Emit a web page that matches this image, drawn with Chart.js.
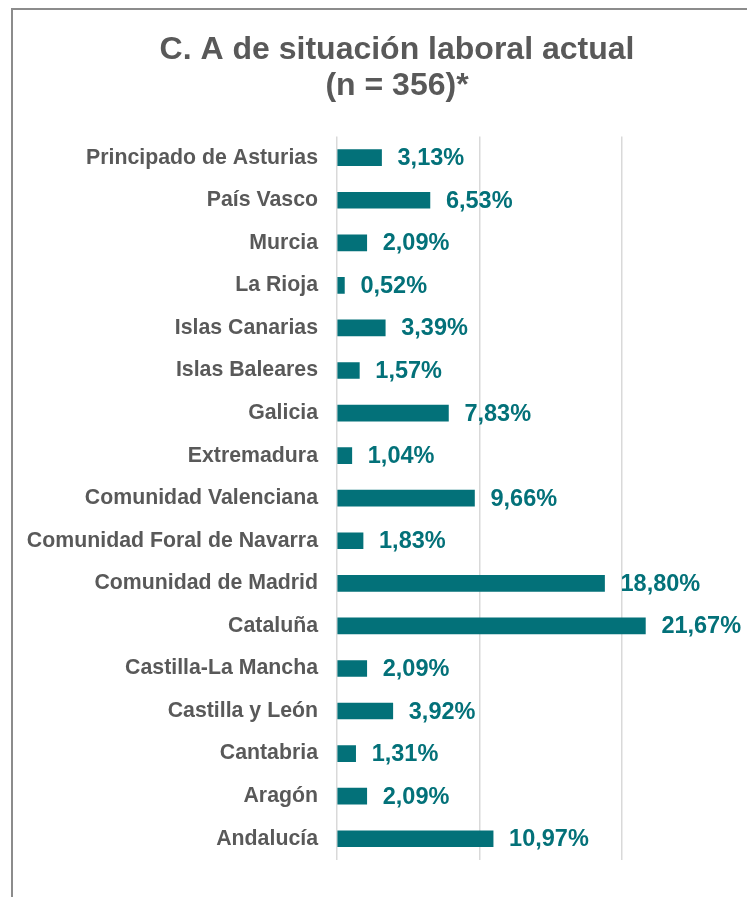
<!DOCTYPE html>
<html>
<head>
<meta charset="utf-8">
<script src="https://cdn.jsdelivr.net/npm/chart.js@4.4.0/dist/chart.umd.min.js"></script>
<style>
  html, body { margin: 0; padding: 0; background: #ffffff; overflow: hidden; width: 747px; height: 897px; }
  #frame { position: absolute; left: 11px; top: 8px; width: 800px; height: 900px;
           border-left: 2px solid #8c8c8c; border-top: 2px solid #8c8c8c; }
  #c { position: absolute; left: 13px; top: 10px; }
</style>
</head>
<body>
<div id="frame"></div>
<canvas id="c" width="768" height="887"></canvas>
<script>
const titleLines = ['C. A de situación laboral actual', '(n = 356)*'];
const categories = [
  'Principado de Asturias', 'País Vasco', 'Murcia', 'La Rioja', 'Islas Canarias',
  'Islas Baleares', 'Galicia', 'Extremadura', 'Comunidad Valenciana',
  'Comunidad Foral de Navarra', 'Comunidad de Madrid', 'Cataluña',
  'Castilla-La Mancha', 'Castilla y León', 'Cantabria', 'Aragón', 'Andalucía'
];
const values = [3.13, 6.53, 2.09, 0.52, 3.39, 1.57, 7.83, 1.04, 9.66, 1.83, 18.80, 21.67, 2.09, 3.92, 1.31, 2.09, 10.97];
const gridTicks = [0, 10, 20];

const TEAL = '#037179';
const GREY = '#595959';
const FONT = "'Liberation Sans', Arial, sans-serif";

const valueLabels = {
  id: 'valueLabels',
  afterDatasetsDraw(chart) {
    const ctx = chart.ctx;
    const meta = chart.getDatasetMeta(0);
    ctx.save();
    ctx.font = 'bold 23.5px ' + FONT;
    ctx.fillStyle = TEAL;
    ctx.textAlign = 'left';
    ctx.textBaseline = 'middle';
    meta.data.forEach((bar, i) => {
      const txt = values[i].toFixed(2).replace('.', ',') + '%';
      ctx.fillText(txt, bar.x + 16, bar.y + 1);
    });
    ctx.restore();
  }
};

new Chart(document.getElementById('c'), {
  type: 'bar',
  data: {
    labels: categories,
    datasets: [{
      data: values,
      backgroundColor: TEAL,
      borderWidth: 0,
      barThickness: 16
    }]
  },
  options: {
    indexAxis: 'y',
    responsive: false,
    animation: false,
    layout: { padding: { left: 0, right: 0, top: 0, bottom: 37 } },
    plugins: {
      legend: { display: false },
      tooltip: { enabled: false },
      title: {
        display: true,
        text: titleLines,
        color: GREY,
        font: { family: FONT, size: 32, weight: 'bold', lineHeight: 1.1 },
        padding: { top: 23, bottom: 33 }
      }
    },
    scales: {
      x: {
        min: 0, max: 31.2,
        ticks: { display: false, stepSize: 10 },
        afterBuildTicks(scale) { scale.ticks = gridTicks.map(v => ({ value: v })); },
        grid: { color: '#d9d9d9', lineWidth: 1.5, drawTicks: false },
        border: { display: false }
      },
      y: {
        afterFit(scale) { scale.width = 324; },
        ticks: { color: GREY, font: { family: FONT, size: 21.3, weight: 'bold' }, padding: 19 },
        grid: { display: false, drawTicks: false },
        border: { display: false }
      }
    }
  },
  plugins: [valueLabels]
});
</script>
</body>
</html>
